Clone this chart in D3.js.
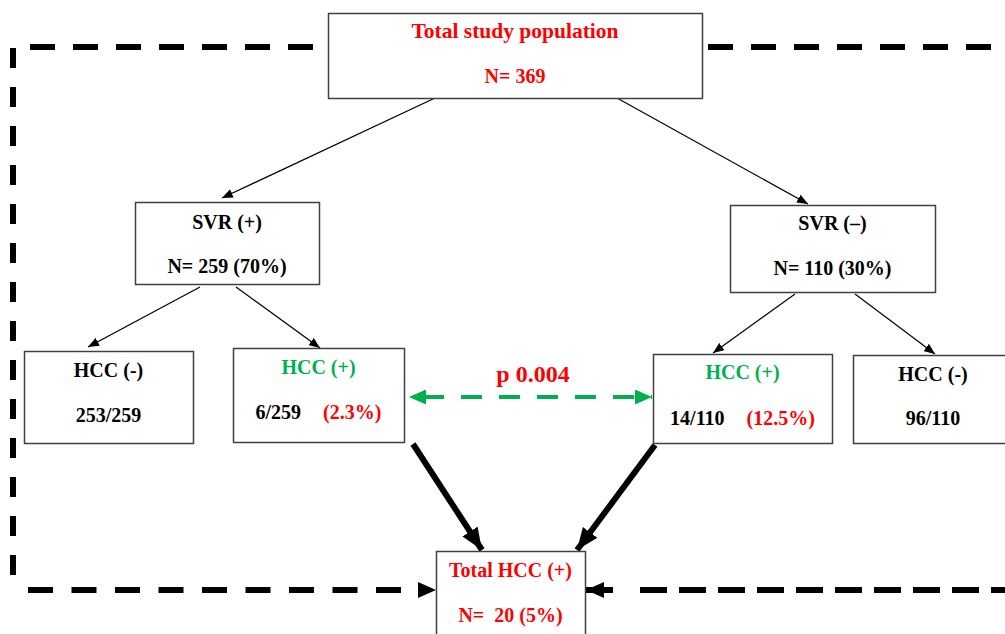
<!DOCTYPE html>
<html>
<head>
<meta charset="utf-8">
<script src="https://cdn.jsdelivr.net/npm/d3@7"></script>
<style>
  body { margin: 0; background: #fff; }
  text { font-family: 'Liberation Serif', 'Times New Roman', serif; font-weight: bold; }
</style>
</head>
<body>
<div class="canvas"></div>
<script>
// node labels: each line is a list of [text, colour key] parts
const nodeIds = ['total', 'svrPos', 'svrNeg', 'hccNegL', 'hccPosL', 'hccPosR', 'hccNegR', 'hccTotal']
const titleLines = [
    [['Total study population', 'red']],
    [['SVR (+)', 'black']],
    [['SVR (\u2013)', 'black']],
    [['HCC (-)', 'black']],
    [['HCC (+)', 'green']],
    [['HCC (+)', 'green']],
    [['HCC (-)', 'black']],
    [['Total HCC (+)', 'red']]
]
const countLines = [
    [['N= 369', 'red']],
    [['N= 259 (70%)', 'black']],
    [['N= 110 (30%)', 'black']],
    [['253/259', 'black']],
    [['6/259', 'black'], ['(2.3%)', 'red']],
    [['14/110', 'black'], ['(12.5%)', 'red']],
    [['96/110', 'black']],
    [['N=\u00a0 20 (5%)', 'red']]
]
const pValue = 'p 0.004'

// links between nodes: [from, to, kind]
const links = [
    ['total', 'svrPos', 'thin'],
    ['total', 'svrNeg', 'thin'],
    ['svrPos', 'hccNegL', 'thin'],
    ['svrPos', 'hccPosL', 'thin'],
    ['svrNeg', 'hccPosR', 'thin'],
    ['svrNeg', 'hccNegR', 'thin'],
    ['hccPosL', 'hccTotal', 'thick'],
    ['hccPosR', 'hccTotal', 'thick']
]

// layout (pixels): box rectangles, text baselines and title size
const layout = {
    total:    { x: 328, y: 13,  w: 374, h: 85,  t1: 38,  t2: 83,  fs: 21.5 },
    svrPos:   { x: 135, y: 202, w: 184, h: 82,  t1: 229, t2: 273, fs: 20 },
    svrNeg:   { x: 730, y: 205, w: 205, h: 87,  t1: 230, t2: 275, fs: 20 },
    hccNegL:  { x: 24,  y: 351, w: 169, h: 92,  t1: 377, t2: 422, fs: 20 },
    hccPosL:  { x: 233, y: 348, w: 171, h: 94,  t1: 374, t2: 419, fs: 20 },
    hccPosR:  { x: 653, y: 354, w: 179, h: 89,  t1: 379, t2: 425, fs: 20 },
    hccNegR:  { x: 853, y: 355, w: 160, h: 88,  t1: 381, t2: 425, fs: 20 },
    hccTotal: { x: 436, y: 551, w: 149, h: 100, t1: 577, t2: 622, fs: 20 }
}
// link anchor points [x1, y1, x2, y2]
const linkPos = [
    [435, 98, 222, 198],
    [617, 98, 808, 204],
    [200, 287, 88, 347],
    [236, 287, 320, 348],
    [795, 294, 713, 353],
    [855, 294, 935, 354],
    [413, 444, 482, 550],
    [655, 445, 577, 550]
]

const colours = { black: '#000', red: '#ff0000', green: '#00b050' }

const svg = d3.select('.canvas')
    .append('svg')
    .attr('width', 1005)
    .attr('height', 634)

const defs = svg.append('defs')
const marker = (id, w, h, fill) => {
    defs.append('marker')
        .attr('id', id)
        .attr('markerUnits', 'userSpaceOnUse')
        .attr('viewBox', `0 0 ${w} ${h}`)
        .attr('refX', w).attr('refY', h / 2)
        .attr('markerWidth', w).attr('markerHeight', h)
        .attr('orient', 'auto-start-reverse')
        .append('path')
        .attr('d', `M0,0 L${w},${h / 2} L0,${h} Z`)
        .attr('fill', fill)
}
marker('thin', 11, 9, '#000')
marker('thick', 22, 18, '#000')
marker('frame', 18, 16, '#000')
marker('green', 17, 15, colours.green)

const repeat = (s, n) => Array(n).fill(s).join(' ')

// dashed frame
const frame = svg.append('g')
    .attr('stroke', '#000')
    .attr('stroke-width', 6)
    .attr('fill', 'none')

frame.append('line')
    .attr('x1', 30).attr('y1', 47).attr('x2', 316).attr('y2', 47)
    .attr('stroke-dasharray', '25 18')
frame.append('line')
    .attr('x1', 708).attr('y1', 47).attr('x2', 1010).attr('y2', 47)
    .attr('stroke-dasharray', '25 18')
frame.append('line')
    .attr('x1', 13).attr('y1', 48).attr('x2', 13).attr('y2', 590)
    .attr('stroke-dasharray', '20 19')
frame.append('line')
    .attr('x1', 28).attr('y1', 590).attr('x2', 436).attr('y2', 590)
    .attr('stroke-dasharray', repeat('25 18.5', 8) + ' 25 100')
    .attr('marker-end', 'url(#frame)')
frame.append('line')
    .attr('x1', 586).attr('y1', 590).attr('x2', 1010).attr('y2', 590)
    .attr('stroke-dasharray', '27 27 ' + repeat('27 12', 11))
    .attr('marker-start', 'url(#frame)')

// links
svg.append('g').selectAll('line')
    .data(links)
    .enter()
    .append('line')
    .attr('x1', (d, i) => linkPos[i][0])
    .attr('y1', (d, i) => linkPos[i][1])
    .attr('x2', (d, i) => linkPos[i][2])
    .attr('y2', (d, i) => linkPos[i][3])
    .attr('stroke', '#000')
    .attr('stroke-width', d => d[2] === 'thick' ? 6 : 1.2)
    .attr('marker-end', d => `url(#${d[2]})`)

// green comparison arrow
svg.append('line')
    .attr('x1', 409).attr('y1', 397).attr('x2', 652).attr('y2', 397)
    .attr('stroke', colours.green)
    .attr('stroke-width', 4)
    .attr('stroke-dasharray', '0 14 ' + repeat('21 17', 6) + ' 21 100')
    .attr('marker-start', 'url(#green)')
    .attr('marker-end', 'url(#green)')

svg.append('text')
    .attr('x', 533).attr('y', 382)
    .attr('text-anchor', 'middle')
    .attr('font-size', 24)
    .attr('fill', colours.red)
    .text(pValue)

// boxes
const nodes = svg.selectAll('.node')
    .data(nodeIds)
    .enter()
    .append('g')
    .attr('class', 'node')

nodes.append('rect')
    .attr('x', d => layout[d].x + 0.5)
    .attr('y', d => layout[d].y + 0.5)
    .attr('width', d => layout[d].w)
    .attr('height', d => layout[d].h)
    .attr('fill', '#fff')
    .attr('stroke', '#404040')
    .attr('stroke-width', 1.5)

const writeLine = (sel, lines, key) => {
    sel.append('text')
        .attr('x', d => layout[d].x + layout[d].w / 2)
        .attr('y', d => layout[d][key])
        .attr('text-anchor', 'middle')
        .attr('font-size', d => key === 't1' ? layout[d].fs : 20)
        .each(function (d, i) {
            const parts = lines[i]
            parts.forEach((p, j) => {
                d3.select(this).append('tspan')
                    .attr('fill', colours[p[1]])
                    .attr('dx', j > 0 ? 22 : null)
                    .text(p[0])
            })
        })
}
writeLine(nodes, titleLines, 't1')
writeLine(nodes, countLines, 't2')
</script>
</body>
</html>
